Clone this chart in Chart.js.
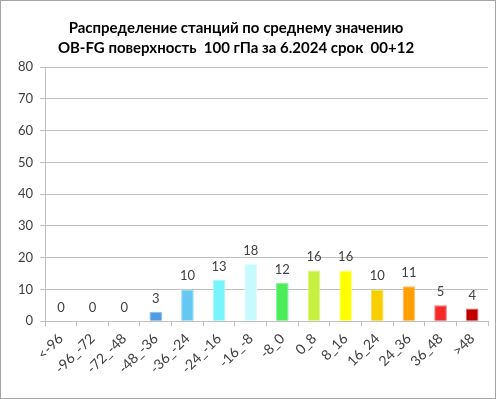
<!DOCTYPE html>
<html>
<head>
<meta charset="utf-8">
<script src="https://cdn.jsdelivr.net/npm/chart.js@4.4.0/dist/chart.umd.min.js"></script>
<style>
  html, body { margin: 0; padding: 0; background: #fff; }
  .frame {
    position: relative;
    width: 496px; height: 399px;
    box-sizing: border-box;
    border: 1px solid #a6a6a6;
    overflow: hidden;
  }
  .title {
    position: absolute;
    left: 0; width: 470px; top: 16px;
    text-align: center;
    font-family: Lato, "Open Sans", sans-serif;
    font-weight: bold;
    font-size: 15px;
    line-height: 20px;
    color: #000;
  }
  canvas { position: absolute; left: 0; top: 0; }
</style>
</head>
<body>
<div class="frame">
  <canvas id="chart" width="494" height="397"></canvas>
  <div class="title">Распределение станций по среднему значению<br>OB-FG поверхность&nbsp; 100 гПа за 6.2024 срок&nbsp; 00+12</div>
</div>
<script>
// категории (интервалы OB-FG)
const categories = ['<-96', '-96_-72', '-72_-48', '-48_-36', '-36_-24', '-24_-16', '-16_-8',
  '-8_0', '0_8', '8_16', '16_24', '24_36', '36_48', '>48'];
// число станций
const stationCounts = [0, 0, 0, 3, 10, 13, 18, 12, 16, 16, 10, 11, 5, 4];
const barColors = ['#4f9ee3', '#4f9ee3', '#4f9ee3', '#4f9ee3', '#66c8f2', '#78f4fb', '#c6fafd',
  '#4ced5a', '#c8f040', '#ffff00', '#f7cf00', '#ffa000', '#f52a2a', '#c00000'];
const borderColors = ['#8ac0ee', '#8ac0ee', '#8ac0ee', '#8ac0ee', '#9adaf6', '#a8f8fc', '#dcfcfe',
  '#8cf496', '#dcf680', '#ffff80', '#fbe060', '#ffc070', '#fa7a7a', '#e06060'];
const yTicks = [0, 10, 20, 30, 40, 50, 60, 70, 80];

const textColor = '#404040';
const gridColor = '#c0c0c0';

// подписи значений над столбцами
const valueLabels = {
  id: 'valueLabels',
  afterDatasetsDraw(chart) {
    const ctx = chart.ctx;
    const meta = chart.getDatasetMeta(0);
    ctx.save();
    ctx.font = '13px Lato, "Open Sans", sans-serif';
    ctx.fillStyle = textColor;
    ctx.textAlign = 'center';
    ctx.textBaseline = 'alphabetic';
    meta.data.forEach((bar, i) => {
      ctx.fillText(String(stationCounts[i]), bar.x, bar.y - 9);
    });
    ctx.restore();
  }
};

new Chart(document.getElementById('chart'), {
  type: 'bar',
  data: {
    labels: categories,
    datasets: [{
      data: stationCounts,
      backgroundColor: barColors,
      borderColor: borderColors,
      borderWidth: 1,
      barPercentage: 0.4,
      categoryPercentage: 1.0
    }]
  },
  options: {
    responsive: false,
    animation: false,
    layout: { padding: { top: 66, right: 7, left: 10, bottom: 17 } },
    plugins: {
      legend: { display: false },
      title: { display: false },
      tooltip: { enabled: false }
    },
    scales: {
      y: {
        min: 0,
        max: 80,
        afterBuildTicks: (axis) => { axis.ticks = yTicks.map(v => ({ value: v })); },
        grid: { color: gridColor, tickLength: 5, drawTicks: true },
        border: { color: gridColor },
        ticks: {
          color: textColor,
          padding: 7,
          font: { family: 'Lato, "Open Sans", sans-serif', size: 13 }
        }
      },
      x: {
        grid: { drawOnChartArea: false, offset: true, tickLength: 5, color: gridColor },
        border: { color: gridColor },
        ticks: {
          color: textColor,
          minRotation: 45,
          maxRotation: 45,
          autoSkip: false,
          padding: 4,
          font: { family: 'Lato, "Open Sans", sans-serif', size: 14 }
        }
      }
    }
  },
  plugins: [valueLabels]
});
</script>
</body>
</html>
